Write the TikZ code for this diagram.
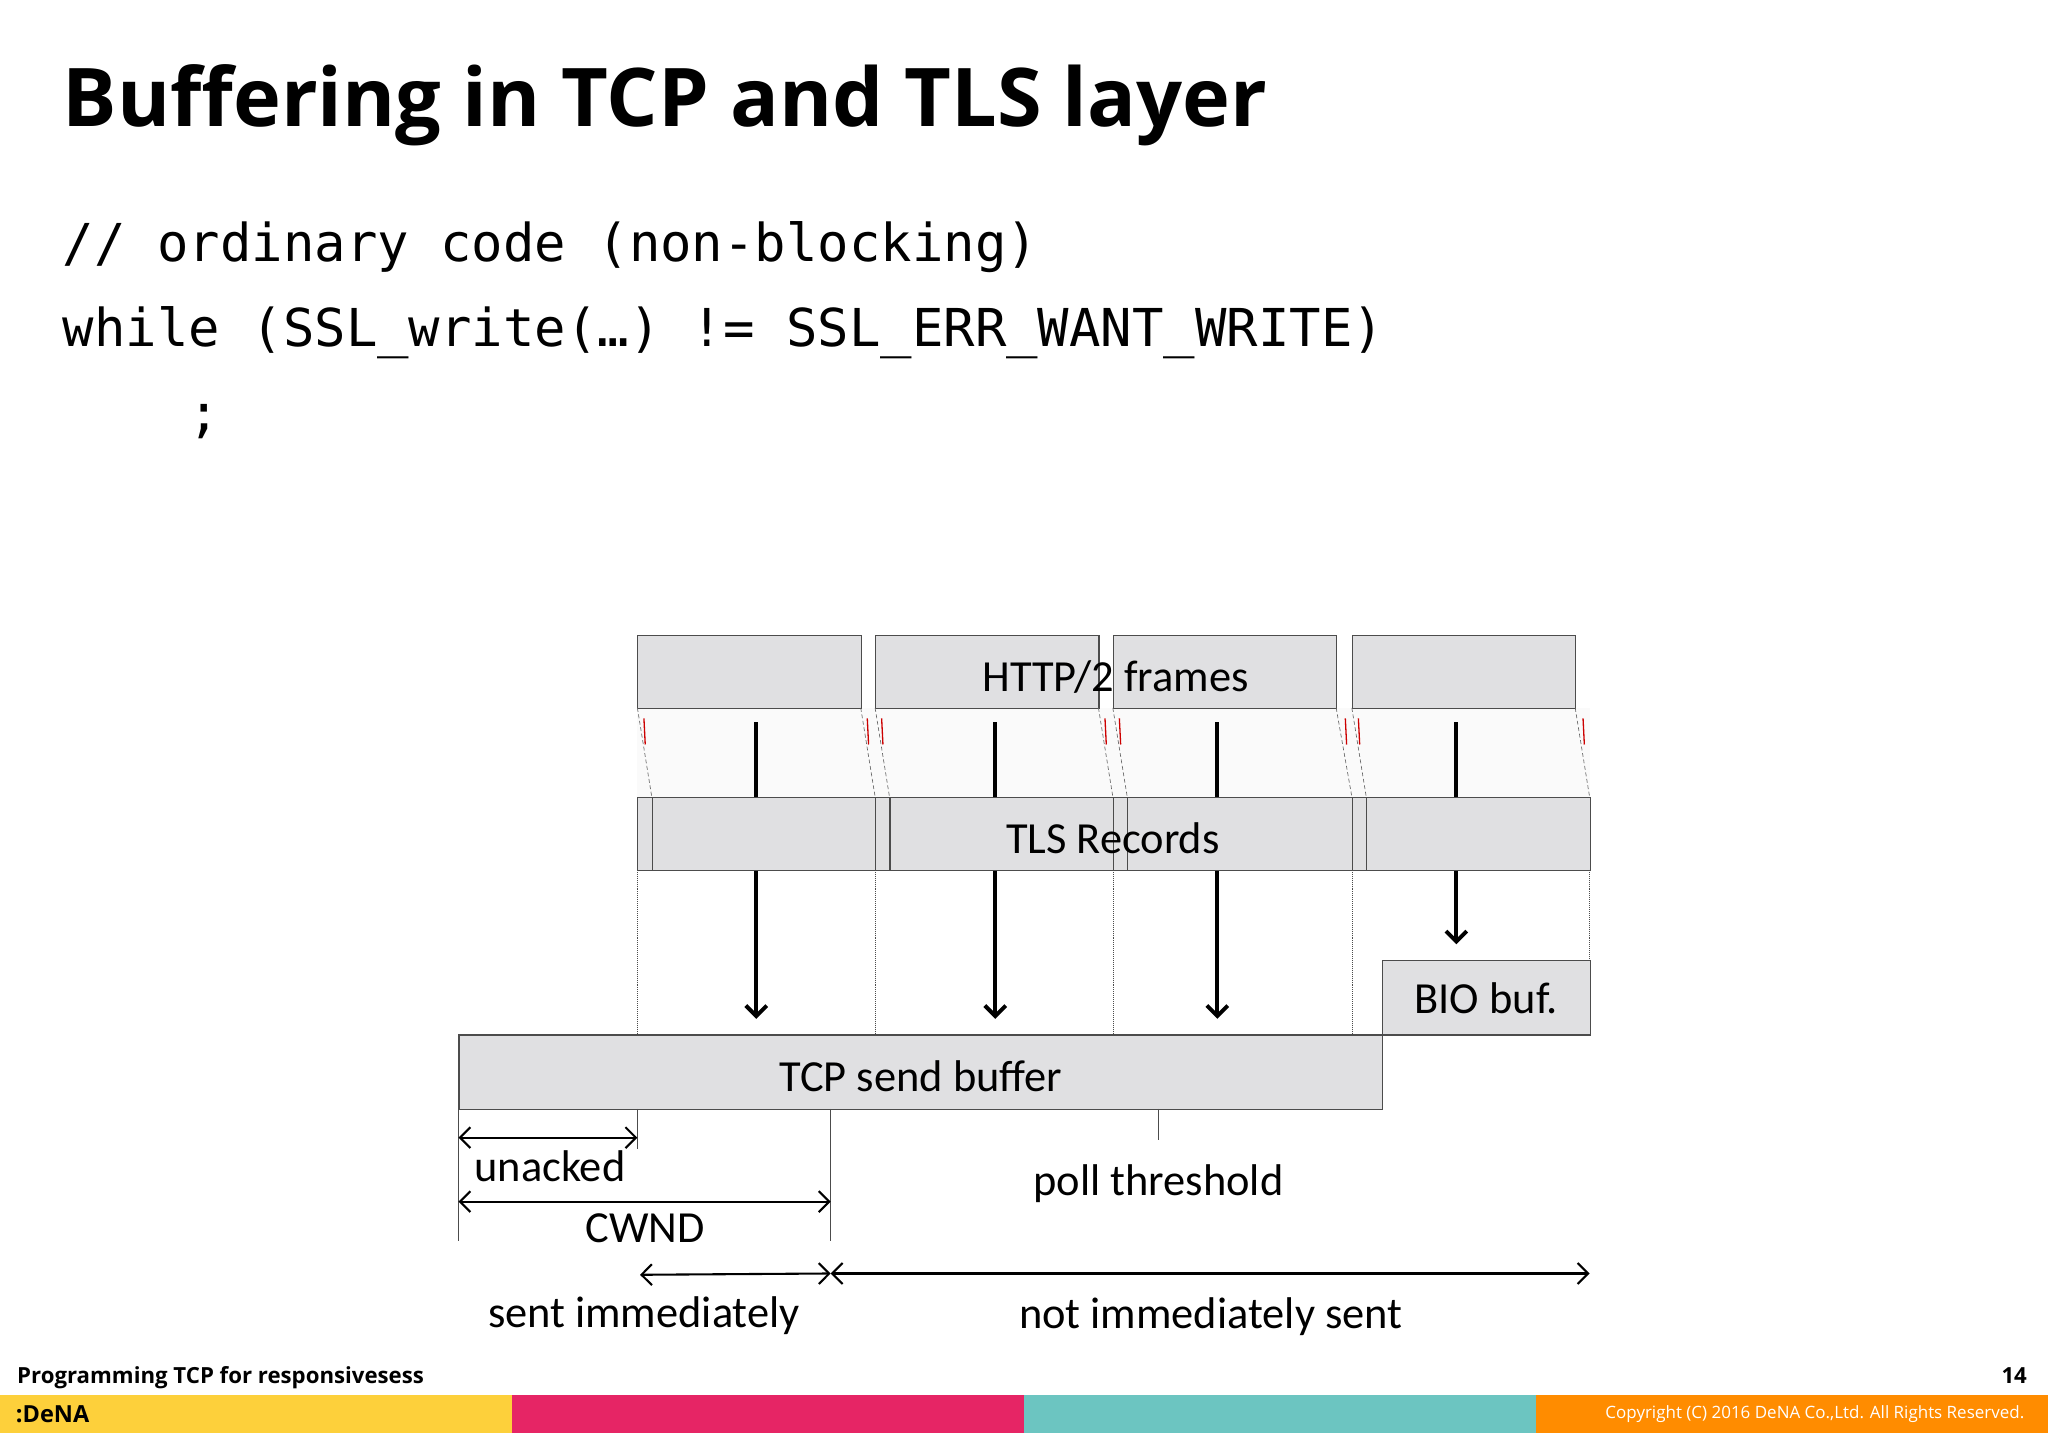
\documentclass[tikz,border=0pt]{standalone}
\usepackage{fontspec}
\setmainfont{Carlito}
\newfontfamily\titlef{Open Sans}
\newfontfamily\codef{DejaVu Sans Mono}
\usetikzlibrary{arrows.meta}
\definecolor{boxg}{HTML}{E0E0E2}
\definecolor{dyel}{HTML}{FDD03B}
\definecolor{dpink}{HTML}{E62565}
\definecolor{dteal}{HTML}{6CC5C1}
\definecolor{dorange}{HTML}{FF8C00}
\tikzset{
 gbox/.style={draw=black!70,fill=boxg,line width=0.8pt},
 lbl/.style={font=\fontsize{34}{40}\selectfont,inner sep=0pt},
 dim/.style={line width=1.6pt,{Straight Barb[length=8pt,width=16pt]}-{Straight Barb[length=8pt,width=16pt]}},
 flow/.style={line width=3pt},
 flowa/.style={line width=3pt,-{Straight Barb[length=8pt,width=16pt]}},
 dotl/.style={densely dotted,line width=0.5pt,black!70},
 thinl/.style={line width=0.6pt,black!70}
}
\begin{document}
\begin{tikzpicture}[x=1pt,y=-1pt]
\useasboundingbox (0,0) rectangle (1568,1108);
\node[anchor=base west,inner sep=0pt,font=\titlef\bfseries\fontsize{62}{70}\selectfont] (title) at (48,97) {Buffering in TCP and TLS layer};
\node[anchor=base west,inner sep=0pt,font=\codef\fontsize{40}{48}\selectfont] (c1) at (48,200) {// ordinary code (non-blocking)};
\node[anchor=base west,inner sep=0pt,font=\codef\fontsize{40}{48}\selectfont] (c2) at (48,265) {while (SSL\_write(…) != SSL\_ERR\_WANT\_WRITE)};
\node[anchor=base west,inner sep=0pt,font=\codef\fontsize{40}{48}\selectfont] (c3) at (144,330) {;};
% middle faint area
\fill[black!2] (488,542) rectangle (1217,610);
% HTTP/2 frames
\node[gbox,minimum width=171,minimum height=56,anchor=north west] (f1) at (488,486) {};
\node[gbox,minimum width=171,minimum height=56,anchor=north west] (f2) at (670,486) {};
\node[gbox,minimum width=171,minimum height=56,anchor=north west] (f3) at (852,486) {};
\node[gbox,minimum width=171,minimum height=56,anchor=north west] (f4) at (1035,486) {};
\node[lbl] (ht) at (854,518) {HTTP/2 frames};
% TLS records
\foreach \a/\b/\n in {488/499/h1,499/670/r1,670/681/h2,681/852/r2,852/863/h3,863/1035/r3,1035/1046/h4,1046/1217/r4}{
  \node[gbox,minimum width=\b-\a,minimum height=56,anchor=north west,inner sep=0pt] (\n) at (\a,610) {};
}
\node[lbl] (tls) at (852,642) {TLS Records};
% slanted dashed
\foreach \x/\y in {488/499,659/670,670/681,841/852,852/863,1023/1035,1035/1046,1206/1217}{
  \draw[densely dashed,line width=0.5pt,black!60] (\x,542) -- (\y,610);
}
\foreach \x in {493,664,675,846,857,1030,1040,1212}{
  \draw[red!80!black,line width=1pt] (\x,550) -- (\x+1,570);
}
% arrows
\foreach \x in {579,762,932,1115}{ \draw[flow] (\x,553) -- (\x,610); }
\coordinate (a1) at (579,780); \coordinate (a2) at (762,780); \coordinate (a3) at (932,780); \coordinate (a4) at (1115,723);
\draw[flowa] (r1.south -| a1) -- (a1);
\draw[flowa] (r2.south -| a2) -- (a2);
\draw[flowa] (r3.south -| a3) -- (a3);
\draw[flowa] (r4.south -| a4) -- (a4);
\foreach \x in {488,670,852,1035}{ \draw[dotl] (\x,666) -- (\x,792); }
\draw[dotl] (1217,666) -- (1217,735);
% buffers
\node[gbox,minimum width=159,minimum height=57,anchor=north west] (bio) at (1058,735) {};
\node[lbl] at (bio.center) {BIO buf.};
\node[gbox,minimum width=707,minimum height=57,anchor=north west] (tcp) at (351,792) {};
\node[lbl] at (705,824) {TCP send buffer};
% markers
\coordinate (m0) at (351,950); \coordinate (m1) at (488,880); \coordinate (m2) at (636,950); \coordinate (m3) at (887,873);
\draw[thinl] (351,849) -- (m0);
\draw[thinl] (488,849) -- (m1);
\draw[thinl] (636,849) -- (m2);
\draw[thinl] (887,849) -- (m3);
\node[lbl] (pt) at (887,906) {poll threshold};
% dimension arrows
\coordinate (u0) at (351,871); \coordinate (u1) at (488,871);
\draw[dim] (u0) -- (u1);
\node[lbl] (un) at (421,893) {unacked};
\coordinate (w0) at (351,920); \coordinate (w1) at (636,920);
\draw[dim] (w0) -- (w1);
\node[lbl] (cw) at (494,940) {CWND};
\coordinate (s0) at (490,976); \coordinate (s1) at (636,975); \coordinate (s2) at (1217,975);
\draw[dim] (s0) -- (s1);
\draw[dim] (s1) -- (s2);
\node[lbl] (si) at (493,1007) {sent immediately};
\node[lbl] (ns) at (927,1008) {not immediately sent};
% footer
\node[anchor=base west,inner sep=0pt,font=\titlef\bfseries\fontsize{17}{20}\selectfont] (ft) at (13,1059) {Programming TCP for responsivesess};
\node[anchor=base east,inner sep=0pt,font=\titlef\bfseries\fontsize{17}{20}\selectfont] (pg) at (1552,1059) {14};
\fill[dyel] (0,1068) rectangle (392,1097);
\fill[dpink] (392,1068) rectangle (784,1097);
\fill[dteal] (784,1068) rectangle (1176,1097);
\fill[dorange] (1176,1068) rectangle (1568,1097);
\node[anchor=west,inner sep=0pt,font=\titlef\bfseries\fontsize{18}{20}\selectfont] (logo) at (12,1083) {:DeNA};
\node[anchor=east,inner sep=0pt,text=white,font=\titlef\fontsize{13}{15}\selectfont] (cp) at (1550,1083) {Copyright (C) 2016 DeNA Co.,Ltd. All Rights Reserved.};
\end{tikzpicture}
\end{document}
